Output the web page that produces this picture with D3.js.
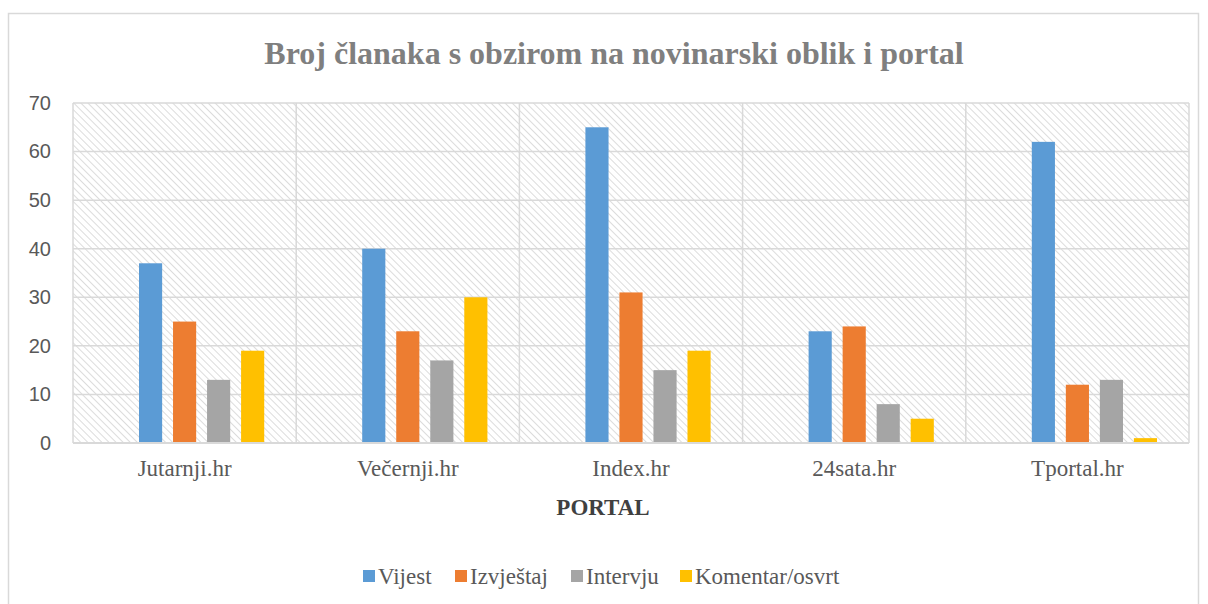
<!DOCTYPE html>
<html lang="hr">
<head>
<meta charset="UTF-8">
<title>Broj članaka</title>
<style>
  body { margin: 0; background: #fff; }
  svg { display: block; }
</style>
</head>
<body>
<svg width="1208" height="604"></svg>
<script src="https://d3js.org/d3.v7.min.js"></script>
<script>
// data
var categories = ["Jutarnji.hr", "Večernji.hr", "Index.hr", "24sata.hr", "Tportal.hr"];
var series = ["Vijest", "Izvještaj", "Intervju", "Komentar/osvrt"];
var vijest = [37, 40, 65, 23, 62];
var izvjestaj = [25, 23, 31, 24, 12];
var intervju = [13, 17, 15, 8, 13];
var komentar = [19, 30, 19, 5, 1];
var yTicks = [0, 10, 20, 30, 40, 50, 60, 70];
var colors = ["#5B9BD5", "#ED7D31", "#A5A5A5", "#FFC000"];

var values = [vijest, izvjestaj, intervju, komentar];

var svg = d3.select("svg");
var margin = {top: 103, left: 73, right: 19, bottom: 161};
var width = 1208 - margin.left - margin.right;
var height = 604 - margin.top - margin.bottom;
var serif = "'Liberation Serif', 'Times New Roman', serif";

// outer chart frame
svg.append("rect")
  .attr("x", 8.5).attr("y", 13.5)
  .attr("width", 1190).attr("height", 620)
  .attr("fill", "#fff").attr("stroke", "#d9d9d9").attr("stroke-width", 1.5);

// hatch pattern of the plot area
var defs = svg.append("defs");
var pat = defs.append("pattern")
  .attr("id", "hatch")
  .attr("patternUnits", "userSpaceOnUse")
  .attr("width", 5).attr("height", 5)
  .attr("patternTransform", "rotate(-45)");
pat.append("rect").attr("width", 5).attr("height", 5).attr("fill", "#fff");
pat.append("line")
  .attr("x1", 0).attr("y1", 0).attr("x2", 0).attr("y2", 5)
  .attr("stroke", "#d4d4d4").attr("stroke-width", 1.6);

var g = svg.append("g")
  .attr("transform", "translate(" + margin.left + "," + margin.top + ")");

var x0 = d3.scaleBand().domain(categories).range([0, width]);
// the source chart keeps an empty first slot in each group, so 5 slots
var x1 = d3.scaleBand().domain(d3.range(5))
  .range([0, x0.bandwidth()])
  .paddingInner(0.32).paddingOuter(0.94);
var y = d3.scaleLinear().domain([0, 70]).range([height, 0]);

g.append("rect")
  .attr("width", width).attr("height", height)
  .attr("fill", "url(#hatch)");

// horizontal grid
g.append("g")
  .selectAll("line")
  .data(yTicks)
  .enter().append("line")
  .attr("x1", 0).attr("x2", width)
  .attr("y1", function(d) { return y(d); })
  .attr("y2", function(d) { return y(d); })
  .attr("stroke", "#d9d9d9").attr("stroke-width", 1.5);

// vertical grid
g.append("g")
  .selectAll("line")
  .data(d3.range(categories.length + 1))
  .enter().append("line")
  .attr("x1", function(i) { return i * x0.step(); })
  .attr("x2", function(i) { return i * x0.step(); })
  .attr("y1", 0).attr("y2", height)
  .attr("stroke", "#d9d9d9").attr("stroke-width", 1.5);

// bars
var groups = g.append("g")
  .selectAll("g")
  .data(categories)
  .enter().append("g")
  .attr("transform", function(d) { return "translate(" + x0(d) + ",0)"; });

groups.selectAll("rect")
  .data(function(d, ci) {
    return series.map(function(s, si) { return {s: si, v: values[si][ci]}; });
  })
  .enter().append("rect")
  .attr("x", function(d) { return x1(d.s + 1); })
  .attr("width", x1.bandwidth())
  .attr("y", function(d) { return y(d.v); })
  .attr("height", function(d) { return height - y(d.v); })
  .attr("fill", function(d) { return colors[d.s]; });

// baseline
g.append("line")
  .attr("x1", 0).attr("x2", width)
  .attr("y1", height).attr("y2", height)
  .attr("stroke", "#d9d9d9").attr("stroke-width", 2);

// y axis
var yAxis = g.append("g")
  .call(d3.axisLeft(y).tickValues(yTicks).tickSize(0).tickPadding(22));
yAxis.select(".domain").remove();
yAxis.selectAll("text")
  .attr("font-family", "'Liberation Sans', Arial, sans-serif")
  .attr("font-size", 20).attr("fill", "#595959");

// x axis
var xAxis = g.append("g")
  .attr("transform", "translate(0," + height + ")")
  .call(d3.axisBottom(x0).tickSize(0).tickPadding(17));
xAxis.select(".domain").remove();
xAxis.selectAll("text")
  .attr("font-family", serif)
  .attr("font-size", 23).attr("fill", "#595959");

// title
svg.append("text")
  .attr("x", 614).attr("y", 64)
  .attr("text-anchor", "middle")
  .attr("font-family", serif)
  .attr("font-weight", "bold").attr("font-size", 32)
  .attr("fill", "#7f7f7f")
  .text("Broj članaka s obzirom na novinarski oblik i portal");

// axis title
svg.append("text")
  .attr("x", 603).attr("y", 515)
  .attr("text-anchor", "middle")
  .attr("font-family", serif)
  .attr("font-weight", "bold").attr("font-size", 23)
  .attr("fill", "#404040")
  .text("PORTAL");

// legend
var legendX = [363, 455, 571, 680];
var legend = svg.append("g")
  .selectAll("g")
  .data(series)
  .enter().append("g")
  .attr("transform", function(d, i) { return "translate(" + legendX[i] + ",570)"; });
legend.append("rect")
  .attr("width", 12).attr("height", 12)
  .attr("fill", function(d, i) { return colors[i]; });
legend.append("text")
  .attr("x", 15).attr("y", 14)
  .attr("font-family", serif)
  .attr("font-size", 23).attr("fill", "#595959")
  .text(function(d) { return d; });
</script>
</body>
</html>
